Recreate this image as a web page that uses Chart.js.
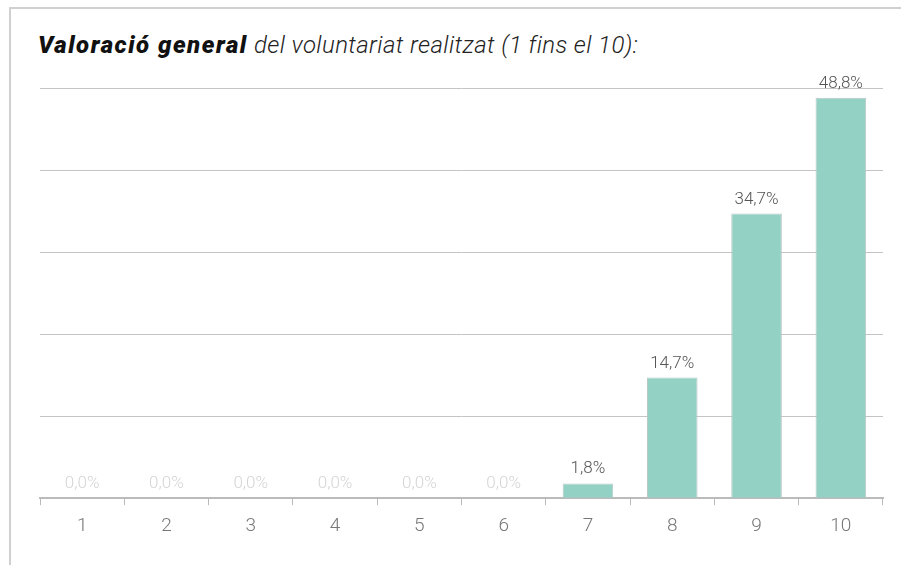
<!DOCTYPE html>
<html>
<head>
<meta charset="utf-8">
<script src="https://cdn.jsdelivr.net/npm/chart.js"></script>
<style>
  html, body { margin: 0; padding: 0; background: #fff; }
  #wrap { position: relative; width: 901px; height: 565px; overflow: hidden; }
  #frame { position: absolute; left: 9px; top: 7px; width: 900px; height: 600px;
           border-left: 2px solid #d0d0d0; border-top: 2px solid #d0d0d0; }
  #titol { position: absolute; left: 38px; top: 31px; font-family: Roboto, sans-serif;
           font-size: 24px; font-style: italic; font-weight: 300; color: #222; letter-spacing: 0.4px;
           white-space: nowrap; }
  #titol b { font-weight: 900; color: #111; letter-spacing: 1.5px; }
  canvas { position: absolute; left: 0; top: 0; }
</style>
</head>
<body>
<div id="wrap">
  <div id="frame"></div>
  <div id="titol"><b>Valoració general</b> del voluntariat realitzat (1 fins el 10):</div>
  <canvas id="grafic" width="901" height="565"></canvas>
</div>
<script>
const CATEGORIES = ['1', '2', '3', '4', '5', '6', '7', '8', '9', '10'];
const PERCENTATGES = [0, 0, 0, 0, 0, 0, 1.8, 14.7, 34.7, 48.8];

const etiquetes = {
  id: 'etiquetes',
  afterDatasetsDraw(chart) {
    const ctx = chart.ctx;
    const meta = chart.getDatasetMeta(0);
    ctx.save();
    ctx.font = '300 17px Roboto, sans-serif';
    ctx.textAlign = 'center';
    ctx.textBaseline = 'alphabetic';
    meta.data.forEach((bar, i) => {
      const v = PERCENTATGES[i];
      ctx.fillStyle = v === 0 ? '#d4d4d4' : '#555';
      ctx.fillText(v.toFixed(1).replace('.', ',') + '%', bar.x, bar.y - 10);
    });
    ctx.restore();
  }
};

new Chart(document.getElementById('grafic'), {
  type: 'bar',
  data: {
    labels: CATEGORIES,
    datasets: [{
      data: PERCENTATGES,
      backgroundColor: '#94d1c5',
      borderColor: '#b8c8c4',
      borderWidth: 1,
      categoryPercentage: 0.6,
      barPercentage: 1
    }]
  },
  options: {
    responsive: false,
    animation: false,
    layout: { padding: { left: 40, right: 18, top: 88, bottom: 17 } },
    plugins: { legend: { display: false }, tooltip: { enabled: false }, title: { display: false } },
    scales: {
      x: {
        grid: { offset: true, drawOnChartArea: false, drawTicks: true, tickLength: 7, color: '#bbb' },
        border: { color: '#bbb', width: 2 },
        ticks: { color: '#777', font: { family: 'Roboto', size: 19, weight: 300 }, padding: 10 }
      },
      y: {
        min: 0, max: 50,
        ticks: { display: false, stepSize: 10 },
        border: { display: false },
        grid: { color: '#c4c4c4', drawTicks: false }
      }
    }
  },
  plugins: [etiquetes]
});
</script>
</body>
</html>
